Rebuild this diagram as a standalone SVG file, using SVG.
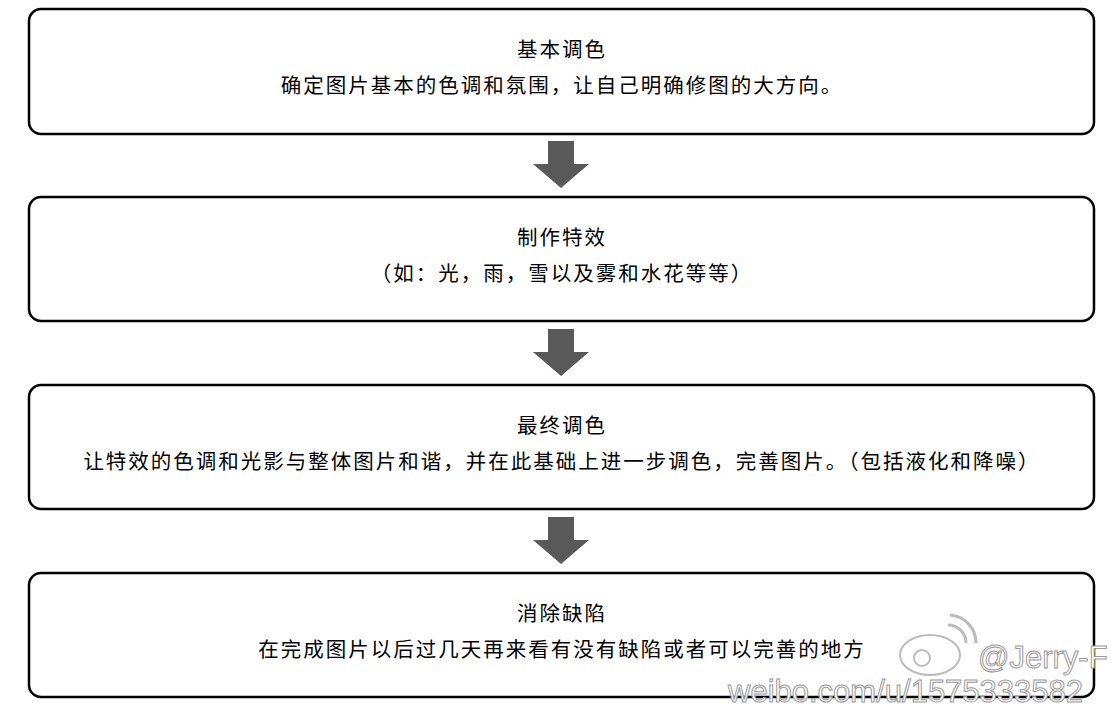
<svg xmlns="http://www.w3.org/2000/svg" width="1111" height="713" viewBox="0 0 1111 713">
<style>
.box{fill:#fff;stroke:#000;stroke-width:2.5}
.t{font-family:"Noto Sans CJK SC","Liberation Sans",sans-serif;font-size:20.5px;letter-spacing:2px;fill:#000;text-anchor:middle}
.arr{fill:#595959}
.wm{font-family:"Liberation Sans",sans-serif;font-size:31px;fill:#fff;stroke:#999;stroke-width:1}
</style>
<rect width="1111" height="713" fill="#fff"/>
<g id="n1"><rect class="box" x="29" y="9" width="1065" height="125" rx="12"/>
<text class="t" x="562" y="57">基本调色</text><text class="t" x="562" y="93">确定图片基本的色调和氛围，让自己明确修图的大方向。</text></g>
<g id="n2"><rect class="box" x="29" y="197" width="1065" height="124" rx="12"/>
<text class="t" x="562" y="245">制作特效</text><text class="t" x="562" y="281">（如：光，雨，雪以及雾和水花等等）</text></g>
<g id="n3"><rect class="box" x="29" y="385" width="1065" height="124" rx="12"/>
<text class="t" x="562" y="433">最终调色</text><text class="t" x="562" y="469">让特效的色调和光影与整体图片和谐，并在此基础上进一步调色，完善图片。（包括液化和降噪）</text></g>
<g id="n4"><rect class="box" x="29" y="573" width="1065" height="124" rx="12"/>
<text class="t" x="562" y="621">消除缺陷</text><text class="t" x="562" y="657">在完成图片以后过几天再来看有没有缺陷或者可以完善的地方</text></g>
<g id="connectors">
<polygon class="arr" points="548,141 574,141 574,164 589,164 561,188 533,164 548,164"/>
<polygon class="arr" points="548,329 574,329 574,352 589,352 561,376 533,352 548,352"/>
<polygon class="arr" points="548,517 574,517 574,540 589,540 561,564 533,540 548,540"/>
</g>
<g id="watermark">
<ellipse cx="930" cy="655" rx="30" ry="20" fill="#fff" stroke="#bbb" stroke-width="2"/>
<circle cx="922" cy="658" r="8" fill="none" stroke="#bbb" stroke-width="2"/>
<path d="M948 625 a18 18 0 0 1 18 18 M950 615 a28 28 0 0 1 26 28" fill="none" stroke="#bbb" stroke-width="3"/>
<text class="wm" x="978" y="668">@Jerry-F</text>
<text class="wm" x="728" y="702">weibo.com/u/1575333582</text>
</g>
</svg>
